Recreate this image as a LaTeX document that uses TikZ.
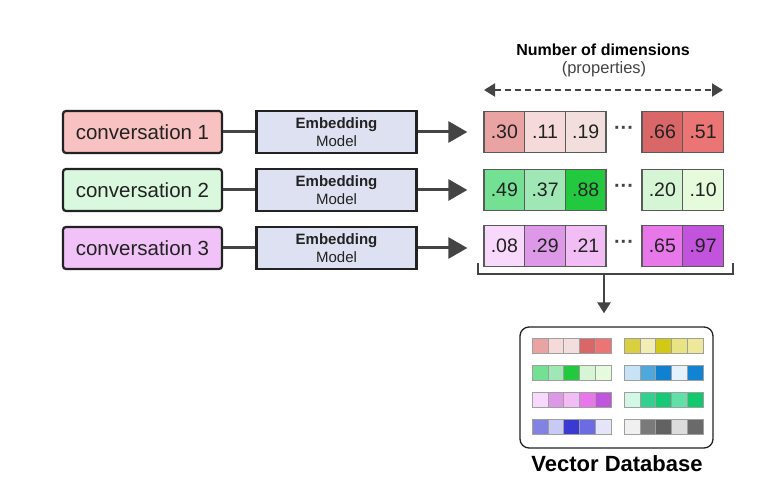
\documentclass[tikz,border=0pt]{standalone}
\usepackage{fontspec}
\setmainfont{Liberation Sans}
\usepackage{xcolor}
\usetikzlibrary{calc}
\usetikzlibrary{arrows.meta}

\definecolor{boxline}{HTML}{222222}
\definecolor{linegray}{HTML}{444444}
\definecolor{cellline}{HTML}{5A5A5A}
\definecolor{textdark}{HTML}{222222}
\definecolor{convred}{HTML}{F8C2C2}
\definecolor{convgreen}{HTML}{D9F8DD}
\definecolor{convpurple}{HTML}{F1C2F8}
\definecolor{embfill}{HTML}{DDE1F1}
% vector colours
\definecolor{ra}{HTML}{E9A3A3}\definecolor{rb}{HTML}{F6D9D9}\definecolor{rc}{HTML}{F3DEDE}\definecolor{rd}{HTML}{D96767}\definecolor{re}{HTML}{EB7575}
\definecolor{ga}{HTML}{74E093}\definecolor{gb}{HTML}{9FE8B5}\definecolor{gc}{HTML}{22C93E}\definecolor{gd}{HTML}{D5F5D5}\definecolor{ge}{HTML}{E5FBDB}
\definecolor{pa}{HTML}{F8D8FB}\definecolor{pb}{HTML}{DD98E8}\definecolor{pc}{HTML}{F1BDF4}\definecolor{pd}{HTML}{E877EA}\definecolor{pe}{HTML}{C253DC}
\definecolor{ya}{HTML}{D9CF40}\definecolor{yb}{HTML}{F2EDB2}\definecolor{yc}{HTML}{D2C914}\definecolor{yd}{HTML}{E9E483}\definecolor{ye}{HTML}{EEE89A}
\definecolor{ba}{HTML}{C8E3F5}\definecolor{bb}{HTML}{4FA8DC}\definecolor{bc}{HTML}{1080D0}\definecolor{bd}{HTML}{E5F2FB}\definecolor{be}{HTML}{1282D2}
\definecolor{ta}{HTML}{D2F6E8}\definecolor{tb}{HTML}{33D190}\definecolor{tc}{HTML}{17C877}\definecolor{td}{HTML}{63E0A8}\definecolor{te}{HTML}{12C86E}
\definecolor{ia}{HTML}{8282E2}\definecolor{ib}{HTML}{C9C9F5}\definecolor{ic}{HTML}{3A3AD2}\definecolor{id}{HTML}{6B6BE2}\definecolor{ie}{HTML}{E5E5FA}
\definecolor{ka}{HTML}{F0F0F0}\definecolor{kb}{HTML}{7A7A7A}\definecolor{kc}{HTML}{626262}\definecolor{kd}{HTML}{DCDCDC}\definecolor{ke}{HTML}{6A6A6A}

\tikzset{
  convbox/.style={draw=boxline,line width=2.2pt,rounded corners=3pt,
    minimum width=159pt,minimum height=42pt,text=textdark,
    font=\fontsize{20.5}{22}\selectfont},
  embbox/.style={draw=boxline,line width=2.2pt,fill=embfill,
    minimum width=160pt,minimum height=42pt,align=center,inner sep=0pt,
    text=textdark,font=\fontsize{15}{18.5}\selectfont},
  cell/.style={draw=cellline,line width=1.3pt,minimum width=40.7pt,
    minimum height=41pt,inner sep=0pt,text=textdark,
    font=\fontsize{19.5}{20}\selectfont},
  dbcell/.style={draw=gray!75,line width=0.6pt,minimum width=15.8pt,
    minimum height=15pt,inner sep=0pt},
  dotsnode/.style={text=linegray,font=\bfseries\fontsize{20}{20}\selectfont},
  link/.style={draw=linegray,line width=3pt},
  bigtip/.style={-{Triangle[length=19pt,width=21pt]}},
}

\begin{document}
\begin{tikzpicture}[x=1pt,y=-1pt]
  \useasboundingbox (0,0) rectangle (761,497);

  % inputs and models
  \node[convbox,fill=convred]    (conv1) at (142.5,132) {conversation 1};
  \node[convbox,fill=convgreen]  (conv2) at (142.5,190) {conversation 2};
  \node[convbox,fill=convpurple] (conv3) at (142.5,248) {conversation 3};
  \node[embbox] (emb1) at (336.5,132) {\textbf{Embedding}\\Model};
  \node[embbox] (emb2) at (336.5,190) {\textbf{Embedding}\\Model};
  \node[embbox] (emb3) at (336.5,248) {\textbf{Embedding}\\Model};

  % vectors
  \foreach \val/\col [count=\i] in {.30/ra,.11/rb,.19/rc}
    \node[cell,fill=\col] (vr\i) at ({484+40.7*(\i-0.5)},132) {\val};
  \foreach \val/\col [count=\i] in {.66/rd,.51/re}
    \node[cell,fill=\col] (vrr\i) at ({642+40.7*(\i-0.5)},132) {\val};
  \foreach \val/\col [count=\i] in {.49/ga,.37/gb,.88/gc}
    \node[cell,fill=\col] (vg\i) at ({484+40.7*(\i-0.5)},190) {\val};
  \foreach \val/\col [count=\i] in {.20/gd,.10/ge}
    \node[cell,fill=\col] (vgg\i) at ({642+40.7*(\i-0.5)},190) {\val};
  \foreach \val/\col [count=\i] in {.08/pa,.29/pb,.21/pc}
    \node[cell,fill=\col] (vp\i) at ({484+40.7*(\i-0.5)},246) {\val};
  \foreach \val/\col [count=\i] in {.65/pd,.97/pe}
    \node[cell,fill=\col] (vpp\i) at ({642+40.7*(\i-0.5)},246) {\val};
  \node[dotsnode] (dots1) at (624,130) {···};
  \node[dotsnode] (dots2) at (624,188) {···};
  \node[dotsnode] (dots3) at (624,244) {···};

  \draw[link] (conv1) -- (emb1);
  \draw[link] (conv2) -- (emb2);
  \draw[link] (conv3) -- (emb3);
  \draw[link,bigtip,shorten >=16pt] (emb1) -- (vr1);
  \draw[link,bigtip,shorten >=16pt] (emb2) -- (vg1);
  \draw[link,bigtip,shorten >=16pt] (emb3) -- (emb3 -| vp1.west);

  % dimensions
  \node[font=\bfseries\fontsize{16}{18}\selectfont,text=black] (dimtitle) at (603,50) {Number of dimensions};
  \node[font=\fontsize{16.5}{18}\selectfont,text=linegray] (dimsub) at (604,69) {(properties)};
  \coordinate (dimL) at (484,90);
  \coordinate (dimR) at (723,90);
  \draw[linegray,line width=2pt,dash pattern=on 6pt off 4pt,
    {Triangle[length=11pt,width=13pt]}-{Triangle[length=11pt,width=13pt]}] (dimL) -- (dimR);

  % bracket and database
  \coordinate (brkL) at (478,263);
  \coordinate (brkR) at (733,263);
  \coordinate (brk) at (604,274);
  \draw[linegray,line width=2.5pt] (brkL) -- (478,274) -- (733,274) -- (brkR);
  \node[draw=boxline,line width=1.3pt,rounded corners=9pt,minimum width=193pt,
    minimum height=121pt] (db) at (616.5,387.5) {};
  \draw[linegray,line width=2.5pt,-{Triangle[length=11pt,width=13pt]},shorten >=13pt] (brk) -- (brk |- db.north);
  \foreach \row/\y in {r/345.5,g/372.5,p/399.5,i/426.5}
    \foreach \c [count=\k] in {a,b,c,d,e}
      \node[dbcell,fill=\row\c] (dbl\row\k) at ({532+15.8*(\k-0.5)},\y) {};
  \foreach \row/\y in {y/345.5,b/372.5,t/399.5,k/426.5}
    \foreach \c [count=\k] in {a,b,c,d,e}
      \node[dbcell,fill=\row\c] (dbr\row\k) at ({624+15.8*(\k-0.5)},\y) {};
  \node[font=\bfseries\fontsize{22}{24}\selectfont] (dbname) at (617,464) {Vector Database};

\end{tikzpicture}
\end{document}
